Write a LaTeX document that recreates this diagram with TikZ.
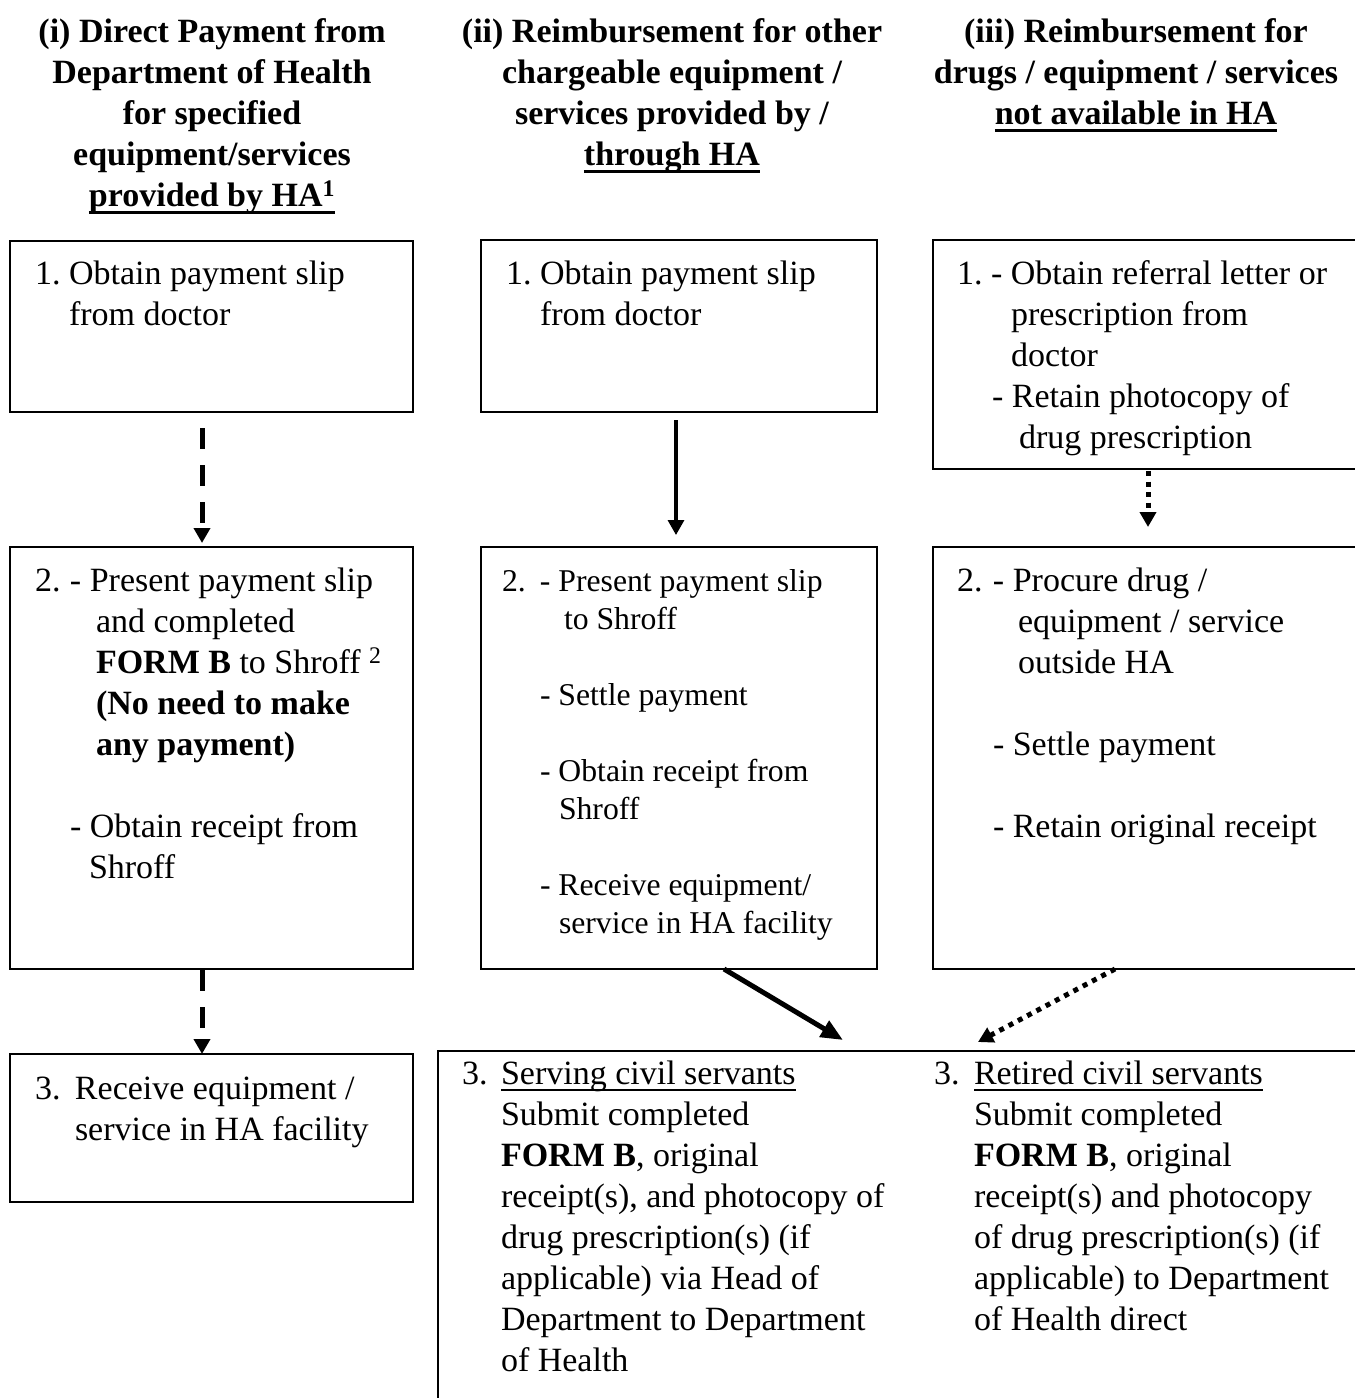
\documentclass[tikz,border=0pt]{standalone}
\usepackage{fontspec}
\setmainfont{Liberation Serif}
\usetikzlibrary{arrows.meta}
\newcommand\myul[3]{\sbox0{#3}\rlap{\rule[-#1]{\wd0}{#2}}\usebox0}
\begin{document}
\begin{tikzpicture}[x=1pt,y=-1pt,
  box/.style={draw, line width=1.6pt, inner sep=0pt, outer sep=0pt, anchor=north west},
  boxb/.style={box, line width=2.4pt},
  txt/.style={anchor=base west, inner sep=0pt, outer sep=0pt, font=\fontsize{34}{41}\selectfont},
  txtsm/.style={txt, font=\fontsize{31.7}{38}\selectfont},
  ttl/.style={anchor=base, inner sep=0pt, outer sep=0pt, font=\fontsize{34}{41}\selectfont\bfseries},
  dsh/.style={line width=5pt, dash pattern=on 20.5pt off 16.5pt, -{Triangle[width=16pt,length=15pt]}},
  sld/.style={line width=3.2pt, -{Triangle[width=16pt,length=15pt]}},
  sldthick/.style={line width=5pt, -{Triangle[width=18pt,length=22pt]}},
  dot/.style={line width=5pt, dash pattern=on 5pt off 5.5pt, -{Triangle[width=16pt,length=15pt]}}
]
\useasboundingbox (0,0) rectangle (1355,1398);
\fill[white] (0,0) rectangle (1355,1398);
\clip (0,0) rectangle (1355,1398);

% titles
\node[ttl] (h1) at (212,42) {\begin{tabular}[t]{@{}c@{}}(i) Direct Payment from\\ Department of Health\\ for specified\\ equipment/services\\ \myul{8pt}{3pt}{provided by HA\textsuperscript{1}}\end{tabular}};
\node[ttl] (h2) at (672,42) {\begin{tabular}[t]{@{}c@{}}(ii) Reimbursement for other\\ chargeable equipment /\\ services provided by /\\ \myul{8pt}{3pt}{through HA}\end{tabular}};
\node[ttl] (h3) at (1136,42) {\begin{tabular}[t]{@{}c@{}}(iii) Reimbursement for\\ drugs / equipment / services\\ \myul{8pt}{3pt}{not available in HA}\end{tabular}};

% boxes
\node[box, minimum width=403pt, minimum height=171pt] (b1i) at (10,241) {};
\node[box, minimum width=396pt, minimum height=172pt] (b1ii) at (481,240) {};
\node[box, minimum width=440pt, minimum height=229pt] (b1iii) at (933,240) {};
\node[box, minimum width=403pt, minimum height=422pt] (b2i) at (10,547) {};
\node[box, minimum width=396pt, minimum height=422pt] (b2ii) at (481,547) {};
\node[box, minimum width=440pt, minimum height=422pt] (b2iii) at (933,547) {};
\node[boxb, minimum width=403pt, minimum height=148pt] (b3i) at (10,1054) {};
\node[boxb, minimum width=935pt, minimum height=370pt] (b3) at (438,1051) {};

% box texts
\node[txt] (t1i) at (35,284) {\begin{tabular}[t]{@{}l@{}}\makebox[34pt][l]{1.}Obtain payment slip\\ \hspace*{34pt}from doctor\end{tabular}};
\node[txt] (t1ii) at (506,284) {\begin{tabular}[t]{@{}l@{}}\makebox[34pt][l]{1.}Obtain payment slip\\ \hspace*{34pt}from doctor\end{tabular}};
\node[txt] (t1iii) at (957,284) {\begin{tabular}[t]{@{}l@{}}\makebox[34pt][l]{1.}- Obtain referral letter or\\ \hspace*{54pt}prescription from\\ \hspace*{54pt}doctor\\ \hspace*{35pt}- Retain photocopy of\\ \hspace*{62pt}drug prescription\end{tabular}};

\node[txt] (t2i) at (35,591) {\begin{tabular}[t]{@{}l@{}}\makebox[35pt][l]{2.}- Present payment slip\\ \hspace*{61pt}and completed\\ \hspace*{61pt}\textbf{FORM B} to Shroff \textsuperscript{2}\\ \hspace*{61pt}\textbf{(No need to make}\\ \hspace*{61pt}\textbf{any payment)}\\ \\ \hspace*{35pt}- Obtain receipt from\\ \hspace*{54pt}Shroff\end{tabular}};
\node[txtsm] (t2ii) at (502,591) {\begin{tabular}[t]{@{}l@{}}\makebox[38pt][l]{2.}- Present payment slip\\ \hspace*{62pt}to Shroff\\ \\ \hspace*{38pt}- Settle payment\\ \\ \hspace*{38pt}- Obtain receipt from\\ \hspace*{57pt}Shroff\\ \\ \hspace*{38pt}- Receive equipment/\\ \hspace*{57pt}service in HA facility\end{tabular}};
\node[txt] (t2iii) at (957,591) {\begin{tabular}[t]{@{}l@{}}\makebox[36pt][l]{2.}- Procure drug /\\ \hspace*{61pt}equipment / service\\ \hspace*{61pt}outside HA\\ \\ \hspace*{36pt}- Settle payment\\ \\ \hspace*{36pt}- Retain original receipt\end{tabular}};

\node[txt] (t3i) at (35,1099) {\begin{tabular}[t]{@{}l@{}}\makebox[40pt][l]{3.}Receive equipment /\\ \hspace*{40pt}service in HA facility\end{tabular}};
\node[txt] (t3a) at (462,1084) {\begin{tabular}[t]{@{}l@{}}\makebox[39pt][l]{3.}\myul{7pt}{2pt}{Serving civil servants}\\ \hspace*{39pt}Submit completed\\ \hspace*{39pt}\textbf{FORM B}, original\\ \hspace*{39pt}receipt(s), and photocopy of\\ \hspace*{39pt}drug prescription(s) (if\\ \hspace*{39pt}applicable) via Head of\\ \hspace*{39pt}Department to Department\\ \hspace*{39pt}of Health\end{tabular}};
\node[txt] (t3b) at (934,1084) {\begin{tabular}[t]{@{}l@{}}\makebox[40pt][l]{3.}\myul{7pt}{2pt}{Retired civil servants}\\ \hspace*{40pt}Submit completed\\ \hspace*{40pt}\textbf{FORM B}, original\\ \hspace*{40pt}receipt(s) and photocopy\\ \hspace*{40pt}of drug prescription(s) (if\\ \hspace*{40pt}applicable) to Department\\ \hspace*{40pt}of Health direct\end{tabular}};

% connectors
\draw[dsh, shorten <=16pt, shorten >=4pt] ([xshift=-9.5pt]b1i.south) -- ([xshift=-9.5pt]b2i.north);
\draw[sld, shorten <=8pt, shorten >=12pt] ([xshift=-3pt]b1ii.south) -- ([xshift=-3pt]b2ii.north);
\draw[dot, shorten <=2pt, shorten >=20pt] ([xshift=215pt]b1iii.south west) -- ([xshift=215pt]b2iii.north west);
\draw[dsh, shorten <=1pt] ([xshift=-9.5pt]b2i.south) -- ([xshift=-9.5pt]b3i.north);
\draw[sldthick] ([xshift=243pt]b2ii.south west) -- ([xshift=405pt,yshift=11pt]b3.north west);
\draw[dot] ([xshift=182pt]b2iii.south west) -- ([xshift=540pt,yshift=9pt]b3.north west);
\end{tikzpicture}
\end{document}
